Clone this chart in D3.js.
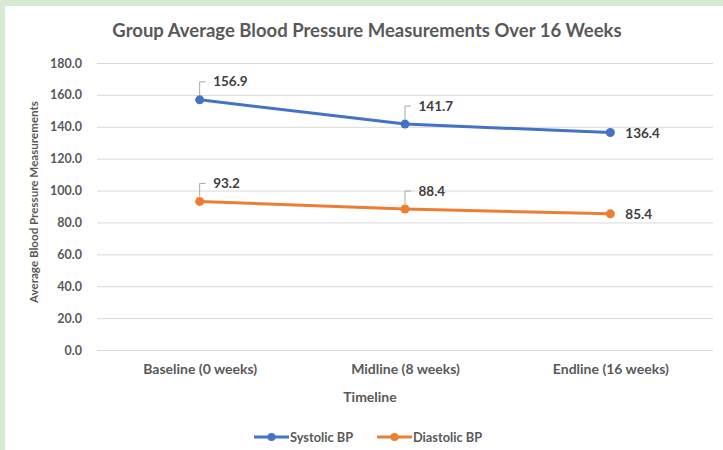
<!DOCTYPE html>
<html><head><meta charset="utf-8">
<script src="https://cdn.jsdelivr.net/npm/d3@7"></script>
<style>
html,body{margin:0;padding:0;background:#d9ead3;}
svg{display:block;}
</style></head>
<body>
<script>
const categories = ["Baseline (0 weeks)", "Midline (8 weeks)", "Endline (16 weeks)"];
const systolic = [156.9, 141.7, 136.4];
const diastolic = [93.2, 88.4, 85.4];
const yTicks = [0, 20, 40, 60, 80, 100, 120, 140, 160, 180];
const seriesNames = ["Systolic BP", "Diastolic BP"];
const colors = ["#4472c4", "#ed7d31"];

const W = 723, H = 450;
const font = "Lato, 'Open Sans', sans-serif";
const svg = d3.select("body").append("svg").attr("width", W).attr("height", H);
svg.append("rect").attr("x", 0).attr("y", 0).attr("width", W).attr("height", H).attr("fill", "#d9ead3");
svg.append("rect").attr("x", 5).attr("y", 6).attr("width", W - 5).attr("height", H - 6).attr("fill", "#ffffff");

const x = d3.scalePoint().domain(categories).range([97, 713]).padding(0.5);
const y = d3.scaleLinear().domain([0, 180]).range([350, 63]);

// title
svg.append("text").attr("x", 367).attr("y", 37).attr("text-anchor", "middle")
  .attr("font-family", font).attr("font-weight", "bold").attr("font-size", 18.5)
  .attr("fill", "#595959").text("Group Average Blood Pressure Measurements Over 16 Weeks");

// gridlines
const yAxis = d3.axisLeft(y).tickValues(yTicks).tickSize(-(713 - 97)).tickFormat(d3.format(".1f")).tickPadding(15);
const gy = svg.append("g").attr("transform", "translate(97,0)").call(yAxis);
gy.select(".domain").remove();
gy.selectAll(".tick line").attr("stroke", "#d9d9d9").attr("stroke-width", 1);
gy.selectAll(".tick text").attr("font-family", font).attr("font-weight", "bold").attr("font-size", 12.5).attr("fill", "#595959");

// x axis labels
const xAxis = d3.axisBottom(x).tickSize(0).tickPadding(14);
const gx = svg.append("g").attr("transform", "translate(0,350)").call(xAxis);
gx.select(".domain").remove();
gx.selectAll(".tick text").attr("font-family", font).attr("font-weight", "bold").attr("font-size", 14).attr("fill", "#595959");

// axis titles
svg.append("text").attr("x", 370).attr("y", 402).attr("text-anchor", "middle")
  .attr("font-family", font).attr("font-weight", "bold").attr("font-size", 14).attr("fill", "#595959").text("Timeline");
svg.append("text").attr("transform", "translate(38,202) rotate(-90)").attr("text-anchor", "middle")
  .attr("font-family", font).attr("font-weight", "bold").attr("font-size", 11.6).attr("fill", "#595959")
  .text("Average Blood Pressure Measurements");

const line = d3.line().x((d, i) => x(categories[i])).y(d => y(d));
[systolic, diastolic].forEach((data, s) => {
  svg.append("path").datum(data).attr("d", line).attr("fill", "none")
    .attr("stroke", colors[s]).attr("stroke-width", 3).attr("stroke-linecap", "round");
  svg.selectAll(null).data(data).enter().append("circle")
    .attr("cx", (d, i) => x(categories[i])).attr("cy", d => y(d)).attr("r", 4.5).attr("fill", colors[s]);
  data.forEach((d, i) => {
    const cx = x(categories[i]), cy = y(d);
    if (i < data.length - 1) {
      const top = cy - 18;
      svg.append("path").attr("d", `M${cx},${cy - 5}V${top}H${cx + 6}`).attr("fill", "none")
        .attr("stroke", "#a6a6a6").attr("stroke-width", 1);
      svg.append("text").attr("x", cx + 13.5).attr("y", top + 4.5).attr("font-family", font).attr("font-weight", "bold")
        .attr("font-size", 13.5).attr("fill", "#404040").text(d.toFixed(1));
    } else {
      svg.append("text").attr("x", cx + 15).attr("y", cy + 5).attr("font-family", font).attr("font-weight", "bold")
        .attr("font-size", 13.5).attr("fill", "#404040").text(d.toFixed(1));
    }
  });
});

// legend
const legendX = [254, 377];
seriesNames.forEach((n, s) => {
  const lx = legendX[s], ly = 437;
  svg.append("line").attr("x1", lx).attr("x2", lx + 35).attr("y1", ly).attr("y2", ly)
    .attr("stroke", colors[s]).attr("stroke-width", 3);
  svg.append("circle").attr("cx", lx + 17.5).attr("cy", ly).attr("r", 4).attr("fill", colors[s]);
  svg.append("text").attr("x", lx + 36).attr("y", ly + 4.5).attr("font-family", font).attr("font-weight", "bold")
    .attr("font-size", 12.8).attr("fill", "#595959").text(n);
});
</script>
</body></html>
